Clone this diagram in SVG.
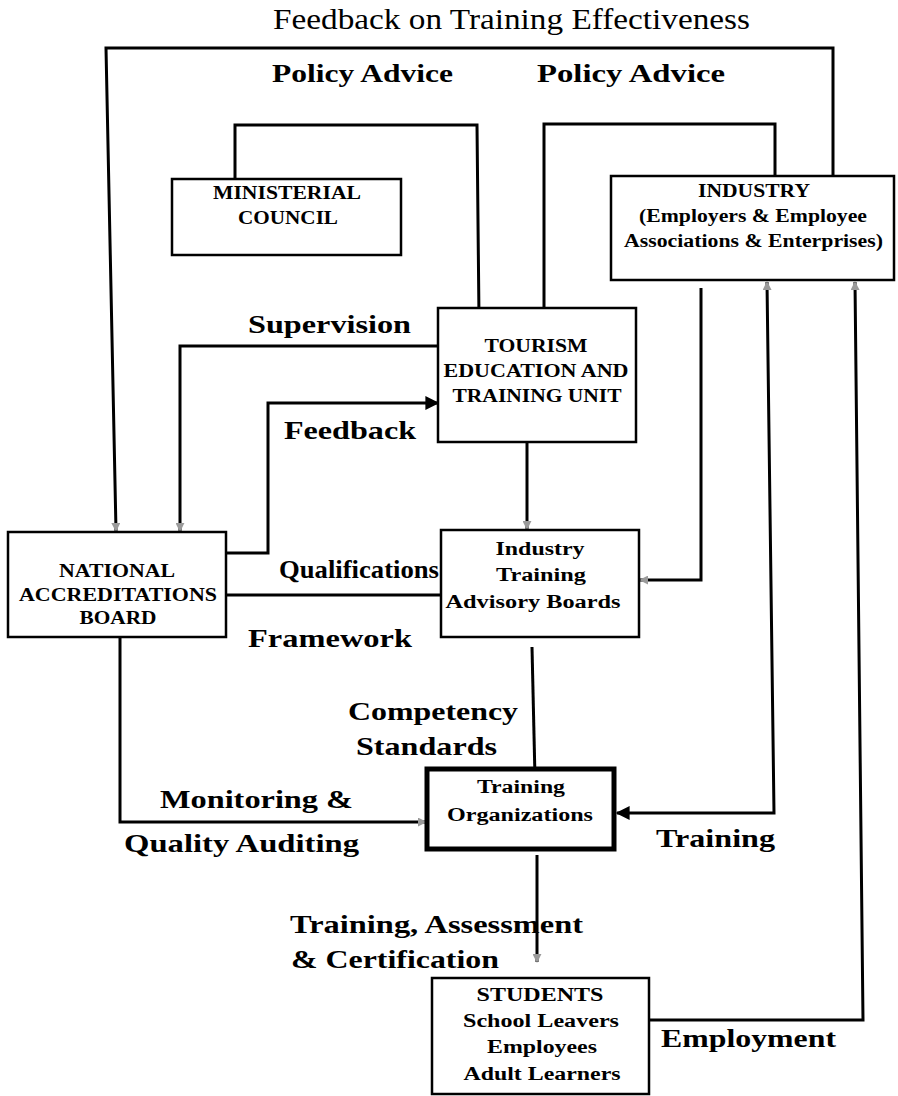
<svg xmlns="http://www.w3.org/2000/svg" width="898" height="1096" viewBox="0 0 898 1096">
<style>
.bg{fill:#fff}
.box{fill:#fff;stroke:#000;stroke-width:2.5}
.thick{stroke-width:5}
.c{fill:none;stroke:#000;stroke-width:3;stroke-linejoin:miter}
.t{font-family:"Liberation Serif","Times New Roman",serif;fill:#000}
.n{font-family:"Liberation Serif","Times New Roman",serif;font-weight:bold;font-size:18px;fill:#000;text-anchor:middle}
.l{font-family:"Liberation Serif","Times New Roman",serif;font-weight:bold;font-size:26px;fill:#000}
</style>
<defs>
<marker id="solid" viewBox="0 0 10 10" refX="9" refY="5" markerWidth="17" markerHeight="14" markerUnits="userSpaceOnUse" orient="auto"><path d="M0,0 L10,5 L0,10 z" fill="#000"/></marker>
<marker id="faint" viewBox="0 0 10 10" refX="9" refY="5" markerWidth="9" markerHeight="9" markerUnits="userSpaceOnUse" orient="auto-start-reverse"><path d="M0,0 L10,5 L0,10 z" fill="#9a9a9a"/></marker>
</defs>
<rect class="bg" x="0" y="0" width="898" height="1096"/>

<g id="connectors">
  <!-- feedback on training effectiveness loop -->
  <path class="c" d="M833,182 V48 H106 L116,531" marker-end="url(#faint)"/>
  <!-- policy advice: ministerial -> tourism -->
  <path class="c" d="M235,179 V125 H477 L479,318"/>
  <!-- policy advice: industry -> tourism -->
  <path class="c" d="M775,182 V124 H544 V318"/>
  <!-- supervision -->
  <path class="c" d="M439,346 H180 V531" marker-end="url(#faint)"/>
  <!-- feedback NAB -> tourism -->
  <path class="c" d="M226,553 H268 V403 H438" marker-end="url(#solid)"/>
  <!-- tourism -> ITAB -->
  <path class="c" d="M527,442 V529" marker-end="url(#faint)"/>
  <!-- qualifications framework -->
  <path class="c" d="M226,595 H441"/>
  <!-- industry -> ITAB -->
  <path class="c" d="M701,288 V580 H640" marker-end="url(#faint)"/>
  <!-- industry <-> training organizations -->
  <path class="c" d="M767,282 L774,813 H617" marker-start="url(#faint)" marker-end="url(#solid)"/>
  <!-- employment -->
  <path class="c" d="M649,1020 H863 L855,282" marker-end="url(#faint)"/>
  <!-- NAB -> training orgs (monitoring) -->
  <path class="c" d="M120,637 V822 H426" marker-end="url(#faint)"/>
  <!-- ITAB -> training orgs (competency standards) -->
  <path class="c" d="M532,647 L535,778"/>
  <!-- training orgs -> students -->
  <path class="c" d="M537,855 V962" marker-end="url(#faint)"/>
</g>

<text class="t" x="511.5" y="29" font-size="30" text-anchor="middle" textLength="477" lengthAdjust="spacingAndGlyphs">Feedback on Training Effectiveness</text>

<g id="labels">
  <text class="l" x="272" y="82" font-size="28" textLength="181" lengthAdjust="spacingAndGlyphs">Policy Advice</text>
  <text class="l" x="537" y="82" font-size="28" textLength="188" lengthAdjust="spacingAndGlyphs">Policy Advice</text>
  <text class="l" x="248" y="333" textLength="163" lengthAdjust="spacingAndGlyphs">Supervision</text>
  <text class="l" x="284" y="439" textLength="132" lengthAdjust="spacingAndGlyphs">Feedback</text>
  <text class="l" x="279" y="578" font-size="24" textLength="160" lengthAdjust="spacingAndGlyphs">Qualifications</text>
  <text class="l" x="248" y="647" textLength="164" lengthAdjust="spacingAndGlyphs">Framework</text>
  <text class="l" x="348" y="720" textLength="170" lengthAdjust="spacingAndGlyphs">Competency</text>
  <text class="l" x="356" y="755" textLength="141" lengthAdjust="spacingAndGlyphs">Standards</text>
  <text class="l" x="160" y="808" textLength="193" lengthAdjust="spacingAndGlyphs">Monitoring &amp;</text>
  <text class="l" x="124" y="852" textLength="235" lengthAdjust="spacingAndGlyphs">Quality Auditing</text>
  <text class="l" x="656" y="847" textLength="119" lengthAdjust="spacingAndGlyphs">Training</text>
  <text class="l" x="290" y="933" textLength="293" lengthAdjust="spacingAndGlyphs">Training, Assessment</text>
  <text class="l" x="291" y="968" textLength="208" lengthAdjust="spacingAndGlyphs">&amp; Certification</text>
  <text class="l" x="661" y="1047" textLength="175" lengthAdjust="spacingAndGlyphs">Employment</text>
</g>

<g id="ministerial-council">
  <rect class="box" x="172" y="179" width="229" height="76"/>
  <text class="n" x="287" y="199" textLength="148" lengthAdjust="spacingAndGlyphs">MINISTERIAL</text>
  <text class="n" x="288" y="224" textLength="100" lengthAdjust="spacingAndGlyphs">COUNCIL</text>
</g>

<g id="industry">
  <rect class="box" x="611" y="176" width="283" height="104"/>
  <text class="n" x="754" y="197" textLength="112" lengthAdjust="spacingAndGlyphs">INDUSTRY</text>
  <text class="n" x="753" y="222" textLength="228" lengthAdjust="spacingAndGlyphs">(Employers &amp; Employee</text>
  <text class="n" x="753.5" y="247" textLength="259" lengthAdjust="spacingAndGlyphs">Associations &amp; Enterprises)</text>
</g>

<g id="tourism-unit">
  <rect class="box" x="438" y="308" width="198" height="134"/>
  <text class="n" x="536" y="352" textLength="103" lengthAdjust="spacingAndGlyphs">TOURISM</text>
  <text class="n" x="536" y="377" textLength="185" lengthAdjust="spacingAndGlyphs">EDUCATION AND</text>
  <text class="n" x="537" y="402" textLength="169" lengthAdjust="spacingAndGlyphs">TRAINING UNIT</text>
</g>

<g id="national-accreditations-board">
  <rect class="box" x="8" y="532" width="218" height="105"/>
  <text class="n" x="117" y="577" textLength="116" lengthAdjust="spacingAndGlyphs">NATIONAL</text>
  <text class="n" x="118" y="601" textLength="198" lengthAdjust="spacingAndGlyphs">ACCREDITATIONS</text>
  <text class="n" x="118" y="624" textLength="77" lengthAdjust="spacingAndGlyphs">BOARD</text>
</g>

<g id="industry-training-advisory-boards">
  <rect class="box" x="441" y="530" width="198" height="107"/>
  <text class="n" x="540" y="555" font-size="21" textLength="89" lengthAdjust="spacingAndGlyphs">Industry</text>
  <text class="n" x="541" y="581" font-size="21" textLength="90" lengthAdjust="spacingAndGlyphs">Training</text>
  <text class="n" x="533" y="608" font-size="21" textLength="175" lengthAdjust="spacingAndGlyphs">Advisory Boards</text>
</g>

<g id="training-organizations">
  <rect class="box thick" x="427" y="769" width="187" height="80"/>
  <text class="n" x="521" y="793" font-size="19" textLength="88" lengthAdjust="spacingAndGlyphs">Training</text>
  <text class="n" x="520" y="821" font-size="19" textLength="146" lengthAdjust="spacingAndGlyphs">Organizations</text>
</g>

<g id="students">
  <rect class="box" x="432" y="978" width="217" height="116"/>
  <text class="n" x="540" y="1001" font-size="19" textLength="127" lengthAdjust="spacingAndGlyphs">STUDENTS</text>
  <text class="n" x="541" y="1027" font-size="19" textLength="156" lengthAdjust="spacingAndGlyphs">School Leavers</text>
  <text class="n" x="542" y="1053" font-size="19" textLength="110" lengthAdjust="spacingAndGlyphs">Employees</text>
  <text class="n" x="542" y="1080" font-size="19" textLength="157" lengthAdjust="spacingAndGlyphs">Adult Learners</text>
</g>
</svg>
